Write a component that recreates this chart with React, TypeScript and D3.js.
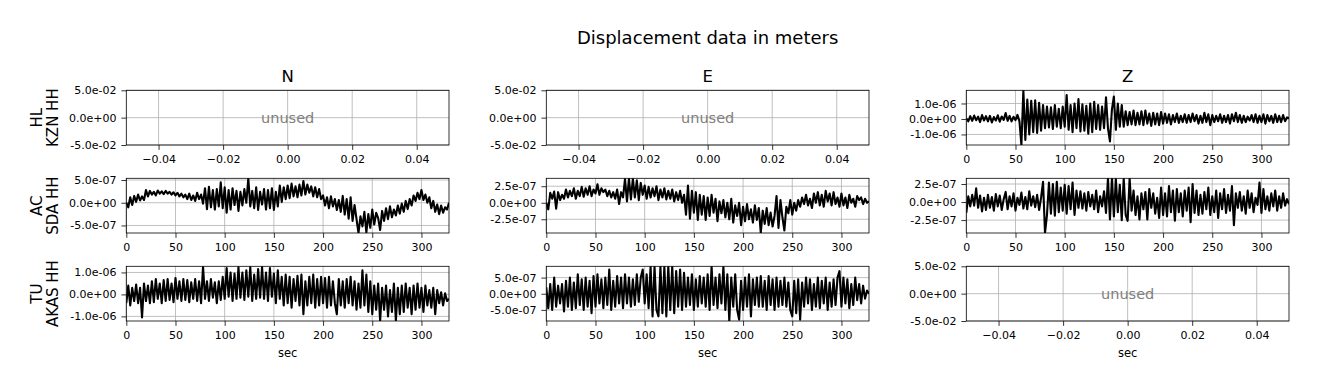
import React from 'react';
import { select, scaleLinear, line, extent, axisBottom, axisLeft, format } from 'd3';

// displacement samples, in units of 1e-7 m, one sample every 2 sec
const UNIT = 1e-7;
const sampleStep = 2;

const kznZ = [
    0.5, -1.5, 1.8, -1.2, 2.2, -0.8, 1.5, -2, 2.5, -1,
    1.8, -1.5, 2, -2.2, 1.2, -1, 2.4, -1.8, 1.6, -0.6,
    3.8, -1.2, 2, -1.6, 1.4, -0.8, 2.6, -1.4, -16.8, 18.5,
    -13.5, 12.5, -10, 11.8, -8.5, 12, -9, 10.5, -7.5, 9,
    -6, 8, -5.5, 7.5, -6.5, 9, -5, 6.5, -6, 8,
    -5, 15.5, -7, 9, -8.5, 10, -6, 12.8, -8, 9.5,
    -7.5, 8.5, -9.5, 10, -8.5, 11, -6.5, 9, -7, 8,
    -6, 14, -6, -14.5, 6, 14.5, -7, 10, -5, 9,
    -5, 5, -4, 4.5, -3.5, 5.5, -4, 4, -3.5, 5,
    -4, 5.5, -3, 3.5, -4.5, 4, -3.5, 3.5, -4, 4.5,
    -3, 3.5, -2.5, 3, -3.5, 2.5, -2, 3.5, -2.5, 2,
    -2, 3, -2.5, 2.5, -2, 3.5, -1.5, 2.5, -3, 2,
    -2.5, 4, -2, 3, -4, 2.5, -2, 2, -1.5, 3,
    -2.5, 2, -2, 2.5, -3, 3, -1.5, 4, -2, 2.5,
    -2.5, 2, -2, 1.5, -1, 2.5, -2, 3, -2.5, 2,
    -2, 3, -3, 2.5, -1.5, 2, -2.5, 3, -2, 2,
    -2, 2.5, -1.5, 1, 0.5,
];

const sdaN = [
    0, -1, 1.2, -0.5, 1.5, 0.2, 1.8, 0.5, 1.4, 0.6,
    2.8, 1.4, 2.6, 1.8, 2.4, 1.6, 2.7, 2, 2.5, 1.9,
    2.6, 2, 2.4, 1.8, 2.3, 1.6, 2.2, 1.4, 2, 1.2,
    1.8, 0.8, 2, 0.6, 1.6, 0.4, 2.2, 0.8, 1.8, -0.2,
    3.2, -1.4, 3.5, -1, 2.8, -1.5, 3, -0.8, 4.5, -1.2,
    3.4, -2.2, 2.8, -1.5, 3.2, -0.5, 2.6, -1.8, 2.4, -0.6,
    3, 0, 5.38, -0.8, 2.6, -1.2, 3.4, -1.6, 2.4, -0.4,
    3, -1.5, 2.8, -1.2, 3.2, -1.6, 2.4, -0.8, 3.8, 0.2,
    3.4, 0.8, 3.8, 1, 4.2, 1.4, 3.6, 1.2, 4, 1.6,
    4.8, 1.8, 4, 2.2, 3.6, 1.4, 3.4, 1.2, 3, 0.8,
    1.6, -0.6, 1.2, -1.2, 1.4, -0.8, 0.8, -1.6, 0.6, -2,
    1.5, -2.6, 0.8, -3.5, 1.2, -4, -0.5, -3.6, -6.66, -3,
    -5.2, -2, -6.5, -2.5, -5.5, -1.5, -4.8, -2.2, -3.4, -6,
    -1.8, -4, -1.2, -3.6, -0.8, -3.2, -1.5, -2.8, -0.6, -2.4,
    -0.2, -2, 0.4, -1.4, 0.8, -0.6, 1.6, 0.4, 2.2, 0.8,
    2.8, 0.6, 1.8, 0, 1.2, -1.2, 0.4, -2, -0.4, -2.5,
    -0.6, -2.2, -1, -1.5, 0,
];

const sdaE = [
    0, -1, 1.5, 0.6, 1.7, -0.9, 1.6, 0.4, 1.2, 0.6,
    2, 0.8, 1.8, 1, 2.2, 0.6, 1.8, 1, 2.4, 0.9,
    2.2, 1.2, 2.5, 1, 2, 1.4, 2.8, 1.2, 2.2, 1.6,
    2, 1, 1.8, 0.8, 1.6, 0.6, 2, -0.2, 1.6, 0.8,
    3.6, 0.2, 3.7, 0.5, 3.7, 0.8, 3.4, 0.4, 3, 1.2,
    2.6, 0.6, 2.4, 0.8, 2.2, 1, 2.5, 0.4, 2, 0.8,
    2.2, 0.5, 1.8, 0.6, 2, 0.2, 1.6, 0.4, 1.8, 0,
    1.2, -1.8, 2.6, -2.4, 1.8, -1.5, 1.6, -2.6, 1.2, -1.8,
    1, -2.6, 0.8, -2, 1.2, -1.5, 0.6, -2.8, 0.2, -1.6,
    0.4, -2.2, 0, -2.5, 0.6, -3, -0.4, -2, 0, -3.4,
    -0.6, -2.8, -0.2, -2.5, -1, -3, -0.4, -2.6, -0.8, -4.58,
    -1.2, -3.2, -0.8, -3.4, -1.5, -3.6, -2, 1, -3.8, 0.4,
    -2.2, -4.2, -0.6, -1.6, 0.4, -1.8, 0, -1.2, 0.4, -0.6,
    0.8, -0.2, 1.2, -0.4, 0.6, -0.8, 1.4, 0, 1.6, -0.4,
    1.2, -0.6, 1.8, 0.2, 1.4, -0.4, 1.6, -0.2, 0.8, -0.6,
    1.4, -0.4, 0.8, -0.8, 1.2, 0, 0.6, -0.6, 1, 0.4,
    0.8, -0.2, 0.6, 0, 0.2,
];

const sdaZ = [
    -1.5, 0.8, -0.6, 1, -0.5, 1.9, -0.8, 0.9, -1.3, 0.6,
    -1.1, 1, -0.8, 0.7, -1.2, 1.1, -0.6, 0.9, -1.1, 0.4,
    1.4, -1, 0.8, -0.6, 1.2, -1.2, 0.6, -0.4, 1.3, -0.9,
    0.7, -1, 1.5, -0.5, 0.8, -0.7, 1, -1.1, 0.6, 2.8,
    -4.29, -1.8, 2.7, -1.6, 2.5, -1.9, 2.8, -1.4, 2, -1.2,
    2.4, -1.6, 2.2, -1, 2.7, -1.8, 1.6, -0.8, 1.5, -0.9,
    1.2, -1.2, 1.4, -0.6, 1, -1, 1.6, -1.4, 0.8, -0.6,
    1.5, -1.5, 3.29, -2.4, 3.29, -2, 3.2, -1.4, 2.4, -2.5,
    3.29, -1.8, -2.6, 3.29, -1.2, 1.6, -1.8, 0.8, -2.4, 1.2,
    -1, 1.4, -2.4, 1.8, -0.8, 1.2, -1.6, 0.6, -2.2, 2,
    -1.8, 1.2, -2, 2.2, -1.4, 1.6, -2.6, 1.8, -1.4, 1.2,
    -2, 1.6, -1.2, 2, -2.8, 2.5, -1.5, 1.6, -1.8, 1,
    -1.6, 1.4, -1, 2, -1.8, 0.8, -1.4, 1.6, -2.2, 1.2,
    -1, 1.8, -1.5, 1, -1.2, 2.2, -3.2, 1.2, -0.8, 1.4,
    -1.2, 0.8, -1.6, 1.6, -0.8, 1.2, -1.4, 0.6, -0.4, 2.7,
    -1.5, 1.8, -1, 0.8, -1.2, 1.2, -0.6, 1.6, -1.2, 0.8,
    -0.8, 1.2, -0.5, 0.4, -0.3,
];

const akasN = [
    -4, 4, -5, 3, -3, 4.5, -4, 3, -10.5, 5,
    -3, 4, -4, 6, -3.5, 7, -2, 5, -4, 6.5,
    -3, 7, -2.5, 5, -3.5, 7.5, -2, 6, -3, 7,
    -2.5, 6.5, -3.5, 5.5, -2, 7, -3, 6, -4, 12.8,
    -2, 6, -3, 7, -1.5, 5.5, -4, 6, -2.5, 8,
    -2, 12, -1, 10, -3, 9.5, -2, 12.5, -1.5, 10,
    -2.5, 11, -1, 12.5, -3, 9, -2, 11.5, -1.5, 12.5,
    -2, 10, -3, 12, -1, 9.5, -4, 11, -2, 8,
    -5, 9, -4, 8, -6, 7, -3, 8.5, -5, 9,
    -9, 6, -5, 8, -4, 9, -6, 7, -5, 8,
    -4, 7.5, -6, 8, -5, 6, -4, -9, 7, -5,
    6, -6, 7, -4, 8, -5, 6, -7, 5, -6,
    11, -5, 9, -8, 6, -9, 4, -7, 5, -12.1,
    3, -7, 4, -10, 2, -8, 5, -12, 3, -9,
    4, -8, 5, -6, 3, -9, 4, -7, 5, -6,
    3, -8, 4, -5, 2, -6, 3, -9, 2, -4,
    1, -5, 0.5, -3, -2,
];

const akasE = [
    2, -4.5, 3, -5, 5, -4, 2.5, -3, 3, -5.5,
    4, -4, 5, -5, 3.5, -4.5, 6, -3.5, 4.5, -5,
    5, -4, 4, -6, 5.5, -4, 6, -3, 4.5, -4.5,
    5, -3.5, 7.5, -5, 4, -4, 5.5, -3, 5, -4.5,
    6, -3, 5, -4, 4.5, -3.5, 6, -2.5, 5, 7.5,
    -3, 6, -4.5, 8.5, -7, 8.5, -5, -7, 8.5, -6,
    8.5, -7, 8.5, -5, 8.5, -6, 7, -4, 7.5, -5,
    6.5, -4, 5, -3.5, 6, -5, 4.5, -4, 5.5, -3,
    5, -4, 6, -5, 8.5, -3.5, 5, -4.5, 6, -3,
    8.5, -5, 6, -8.44, 5, -4, 6, -5, -8, 4,
    -5, 5, -4, 6, -7, 4.5, -3.5, 5, -4, 5.5,
    -4, 4, -5, 5.5, -3.5, 4.5, -5, 5, -4, 4,
    -3.5, 5, -4, 3.5, -5, -7, 4, -6, 4.5, -8,
    3.5, -4, 5, -3, 4.5, -5, 3, -4, 5, -4.5,
    4, -3, 5, -5, 3.5, -4, 4.5, -3.5, 5, 7,
    -4, 5, -3, 4.5, -4.5, 3, -3.5, 5, -2, 3,
    -3, 2.5, -1.5, 1, 0,
];

const components = ['N', 'E', 'Z'];
const stations = [['HL', 'KZN HH'], ['AC', 'SDA HH'], ['TU', 'AKAS HH']];
const secTicks = [0, 50, 100, 150, 200, 250, 300];
const unusedXTicks = [-0.04, -0.02, 0, 0.02, 0.04];
const unusedYTicks = [-0.05, 0, 0.05];

// [row][col] -> trace and its y ticks (units of 1e-7), null = unused
const traces = [
    [null, null, { values: kznZ, yTicks: [-10, 0, 10] }],
    [{ values: sdaN, yTicks: [-5, 0, 5] }, { values: sdaE, yTicks: [-2.5, 0, 2.5] }, { values: sdaZ, yTicks: [-2.5, 0, 2.5] }],
    [{ values: akasN, yTicks: [-10, 0, 10] }, { values: akasE, yTicks: [-5, 0, 5] }, null],
];

const dims = {
    width: 1318,
    height: 389,
    left: 126.3,
    colStep: 420,
    plotW: 322.7,
    top: 90.3,
    rowStep: 88,
    plotH: 54.7,
};
const font = '"DejaVu Sans", sans-serif';
const tickLen = 4.9;

const sci = (v: number) => {
    if (Math.abs(v) < 1e-15) return '0.0e+00';
    const [m, e] = v.toExponential(1).split('e');
    const sign = e[0] === '-' ? '-' : '+';
    return `${m}e${sign}${e.replace(/^[+-]/, '').padStart(2, '0')}`;
};

const App = () => {
    const ref = React.useRef<SVGSVGElement>(null);

    React.useEffect(() => {
        const svg = select(ref.current);
        svg.selectAll('*').remove();

        svg.append('text')
            .attr('x', dims.left + (2 * dims.colStep + dims.plotW) / 2)
            .attr('y', 44)
            .attr('text-anchor', 'middle')
            .attr('font-size', 18)
            .attr('font-family', font)
            .text('Displacement data in meters');

        traces.forEach((row, r) => {
            row.forEach((trace, c) => {
                const x0 = dims.left + c * dims.colStep;
                const y0 = dims.top + r * dims.rowStep;
                const g = svg.append('g').attr('transform', `translate(${x0},${y0})`);

                let xScale, yScale, xTicks, yTicks, xFmt, yFmt;
                if (trace) {
                    const times = trace.values.map((_, i) => i * sampleStep);
                    xScale = scaleLinear().domain([0, times[times.length - 1]]).range([0, dims.plotW]);
                    yScale = scaleLinear().domain(extent(trace.values) as [number, number]).range([dims.plotH, 0]);
                    xTicks = secTicks;
                    yTicks = trace.yTicks;
                    xFmt = (d: number) => String(d);
                    yFmt = (d: number) => sci(d * UNIT);
                } else {
                    xScale = scaleLinear().domain([-0.05, 0.05]).range([0, dims.plotW]);
                    yScale = scaleLinear().domain([-0.05, 0.05]).range([dims.plotH, 0]);
                    xTicks = unusedXTicks;
                    yTicks = unusedYTicks;
                    xFmt = format('.2f');
                    yFmt = (d: number) => sci(d);
                }

                // grid
                g.selectAll('.gx').data(xTicks).join('line')
                    .attr('x1', d => xScale(d)).attr('x2', d => xScale(d))
                    .attr('y1', 0).attr('y2', dims.plotH)
                    .attr('stroke', '#b0b0b0').attr('stroke-width', 0.8);
                g.selectAll('.gy').data(yTicks).join('line')
                    .attr('y1', d => yScale(d)).attr('y2', d => yScale(d))
                    .attr('x1', 0).attr('x2', dims.plotW)
                    .attr('stroke', '#b0b0b0').attr('stroke-width', 0.8);

                if (trace) {
                    const clipId = `clip-${r}-${c}`;
                    g.append('clipPath').attr('id', clipId)
                        .append('rect').attr('width', dims.plotW).attr('height', dims.plotH);
                    const path = line<number>()
                        .x((_, i) => xScale(i * sampleStep))
                        .y(d => yScale(d));
                    g.append('path')
                        .attr('d', path(trace.values))
                        .attr('fill', 'none')
                        .attr('stroke', '#000')
                        .attr('stroke-width', 2.1)
                        .attr('stroke-linejoin', 'round')
                        .attr('clip-path', `url(#${clipId})`);
                } else {
                    g.append('text')
                        .attr('x', dims.plotW / 2)
                        .attr('y', dims.plotH / 2)
                        .attr('dy', '0.35em')
                        .attr('text-anchor', 'middle')
                        .attr('font-size', 14.5)
                        .attr('font-family', font)
                        .attr('fill', '#808080')
                        .text('unused');
                }

                const xAxisG = g.append('g')
                    .attr('transform', `translate(0,${dims.plotH})`)
                    .call(axisBottom(xScale).tickValues(xTicks).tickFormat(xFmt as any).tickSize(tickLen).tickPadding(4.9));
                const yAxisG = g.append('g')
                    .call(axisLeft(yScale).tickValues(yTicks).tickFormat(yFmt as any).tickSize(tickLen).tickPadding(4.9));
                [xAxisG, yAxisG].forEach(a => {
                    a.select('.domain').remove();
                    a.selectAll('line').attr('stroke', '#000').attr('stroke-width', 0.8);
                    a.selectAll('text').attr('font-size', 11).attr('font-family', font).attr('fill', '#000');
                });

                g.append('rect')
                    .attr('width', dims.plotW).attr('height', dims.plotH)
                    .attr('fill', 'none').attr('stroke', '#000').attr('stroke-width', 0.8);

                if (r === 0) {
                    g.append('text')
                        .attr('x', dims.plotW / 2).attr('y', -8.3)
                        .attr('text-anchor', 'middle')
                        .attr('font-size', 16.5)
                        .attr('font-family', font)
                        .text(components[c]);
                }
                if (r === 2) {
                    g.append('text')
                        .attr('x', dims.plotW / 2).attr('y', dims.plotH + 36)
                        .attr('text-anchor', 'middle')
                        .attr('font-size', 11.5)
                        .attr('font-family', font)
                        .text('sec');
                }
                if (c === 0) {
                    stations[r].forEach((txt, k) => {
                        g.append('text')
                            .attr('transform', `translate(${-84 + k * 16},${dims.plotH / 2}) rotate(-90)`)
                            .attr('text-anchor', 'middle')
                            .attr('font-size', 15)
                            .attr('font-family', font)
                            .text(txt);
                    });
                }
            });
        });
    }, []);

    return (
        <div style={{ position: 'absolute', left: 0, top: 0 }}>
            <svg ref={ref} width={dims.width} height={dims.height} style={{ display: 'block', background: '#fff' }} />
        </div>
    );
};

export default App;
